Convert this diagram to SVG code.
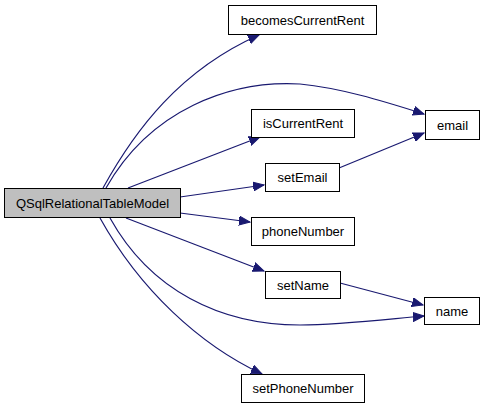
<svg xmlns="http://www.w3.org/2000/svg" width="485" height="408" viewBox="0 0 485 408">
<style>
.n rect{fill:#fff;stroke:#000;stroke-width:1}
.n text{font-family:"Liberation Sans",Arial,sans-serif;font-size:13px;fill:#000;text-anchor:middle}
#edges path{fill:none;stroke:#191970;stroke-width:1.2;marker-end:url(#ah)}
</style>
<defs>
<marker id="ah" markerUnits="userSpaceOnUse" markerWidth="12" markerHeight="10" refX="11" refY="5" orient="auto">
<path d="M0,0.5 L11,5 L0,9.5 Z" fill="#191970" stroke="#191970" stroke-width="1"/>
</marker>
</defs>
<rect width="485" height="408" fill="#fff"/>
<g id="edges">
<path d="M103,188 C135,130 180,70 259,35"/>
<path d="M106,188 C150,110 230,80 300,84 C340,88 380,100 424,114"/>
<path d="M128,188 L260,137"/>
<path d="M180,197 L264,185"/>
<path d="M180,213 L250,222"/>
<path d="M126,218 L264,271"/>
<path d="M110,218 C150,290 220,325 300,325 C340,325 380,320 424,316"/>
<path d="M100,218 C140,290 200,345 262,374"/>
<path d="M339,168 L424,133"/>
<path d="M340,283 L423,305"/>
</g>
<g id="QSqlRelationalTableModel" class="n"><rect x="4.5" y="188.5" width="176" height="29" style="fill:#bfbfbf"/><text x="92.5" y="207.5">QSqlRelationalTableModel</text></g>
<g id="becomesCurrentRent" class="n"><rect x="228.5" y="5.5" width="148" height="29"/><text x="302.5" y="24.5">becomesCurrentRent</text></g>
<g id="email" class="n"><rect x="425.5" y="110.5" width="54" height="29"/><text x="452.5" y="129.5">email</text></g>
<g id="isCurrentRent" class="n"><rect x="251.5" y="109.5" width="103" height="28"/><text x="303" y="128">isCurrentRent</text></g>
<g id="setEmail" class="n"><rect x="265.5" y="163.5" width="74" height="28"/><text x="302.5" y="182">setEmail</text></g>
<g id="phoneNumber" class="n"><rect x="251.5" y="217.5" width="103" height="28"/><text x="303" y="236">phoneNumber</text></g>
<g id="setName" class="n"><rect x="265.5" y="271.5" width="75" height="27"/><text x="303" y="289.5">setName</text></g>
<g id="name" class="n"><rect x="424.5" y="297.5" width="55" height="27"/><text x="452" y="315.5">name</text></g>
<g id="setPhoneNumber" class="n"><rect x="241.5" y="374.5" width="123" height="28"/><text x="303" y="393">setPhoneNumber</text></g>
</svg>
